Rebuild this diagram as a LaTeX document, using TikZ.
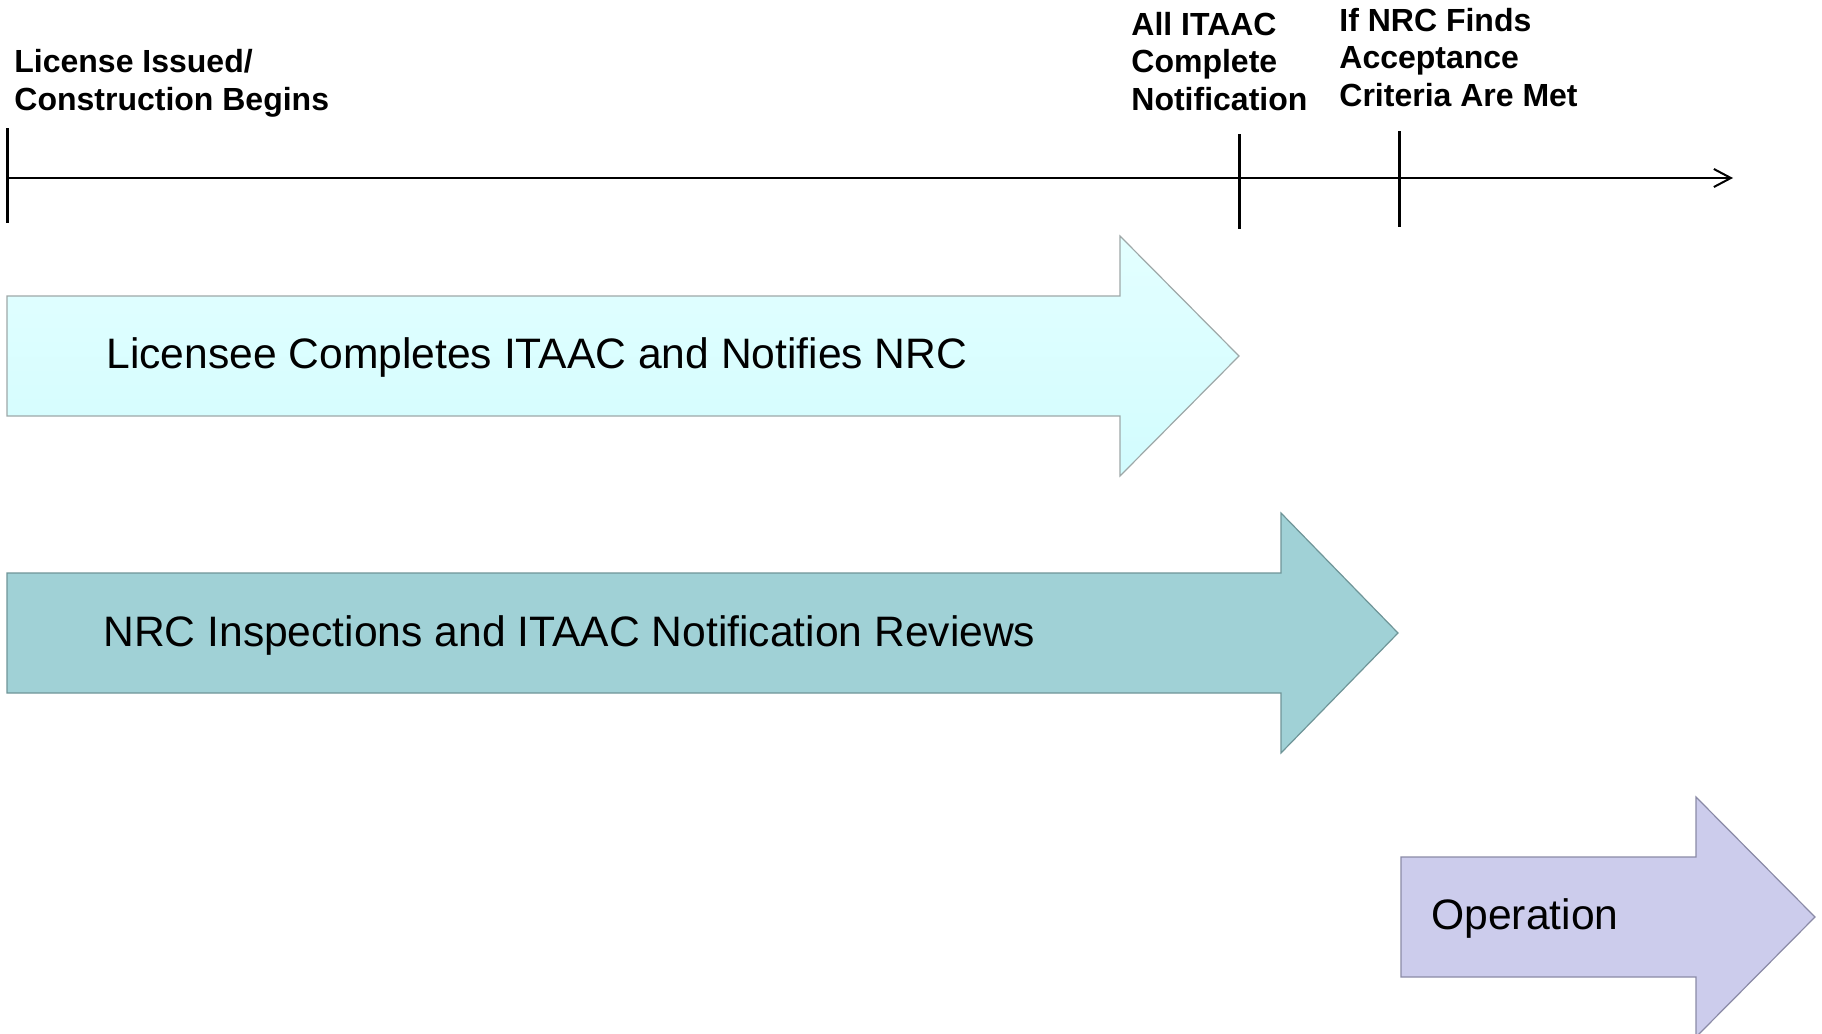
\documentclass[tikz,border=0pt]{standalone}
\usepackage{fontspec}
\setmainfont{Liberation Sans}
\usetikzlibrary{arrows.meta}
\definecolor{aonetop}{HTML}{E3FFFF}
\definecolor{aonebot}{HTML}{D2FCFE}
\definecolor{aoneline}{HTML}{9EA8A8}
\definecolor{atwofill}{HTML}{A0D1D6}
\definecolor{atwoline}{HTML}{6F9598}
\definecolor{athreefill}{HTML}{CCCCEC}
\definecolor{athreeline}{HTML}{8A8AA6}
\begin{document}
\begin{tikzpicture}[x=0.5pt,y=-0.5pt,
  lbl/.style={font=\bfseries\fontsize{16}{18.75}\selectfont, align=left, anchor=base west, inner sep=0pt},
  big/.style={font=\fontsize{21.3}{25}\selectfont, anchor=base west, inner sep=0pt},
  tickmark/.style={line width=1.5pt},
  phase/.style={line width=0.6pt, line join=miter},
]
\useasboundingbox (0,0) rectangle (1822,1034);
\clip (0,0) rectangle (1822,1034);
% arrows
\path[phase, draw=aoneline, top color=aonetop, bottom color=aonebot]
  (7,296) -- (1120,296) -- (1120,236) -- (1239,356) -- (1120,476) -- (1120,416) -- (7,416) -- cycle;
\path[phase, draw=atwoline, fill=atwofill]
  (7,573) -- (1281,573) -- (1281,513) -- (1398,633) -- (1281,753) -- (1281,693) -- (7,693) -- cycle;
\path[phase, draw=athreeline, fill=athreefill]
  (1401,857) -- (1696,857) -- (1696,797) -- (1815,917) -- (1696,1037) -- (1696,977) -- (1401,977) -- cycle;
\node[big] (licensee) at (106,368) {Licensee Completes ITAAC and Notifies NRC};
\node[big] (inspect) at (103,646) {NRC Inspections and ITAAC Notification Reviews};
\node[big] (oper) at (1431,929) {Operation};
% timeline
\coordinate (t0) at (7,178);
\coordinate (tend) at (1733,178);
\draw[line width=1pt, -{Straight Barb[length=8.5pt,width=9pt,line width=1pt]}] (t0) -- (tend);
\coordinate (k1a) at (7,128); \coordinate (k1b) at (7,223);
\coordinate (k2a) at (1239,134); \coordinate (k2b) at (1239,229);
\coordinate (k3a) at (1399,131); \coordinate (k3b) at (1399,227);
\draw[tickmark] (k1a) -- (k1b);
\draw[tickmark] (k2a) -- (k2b);
\draw[tickmark] (k3a) -- (k3b);
\node[lbl] (lic) at (14,110) {License Issued/\\Construction Begins};
\node[lbl] (all) at (1131,110) {All ITAAC\\Complete\\Notification};
\node[lbl] (ifnrc) at (1339,106) {If NRC Finds\\Acceptance\\Criteria Are Met};
\end{tikzpicture}
\end{document}
